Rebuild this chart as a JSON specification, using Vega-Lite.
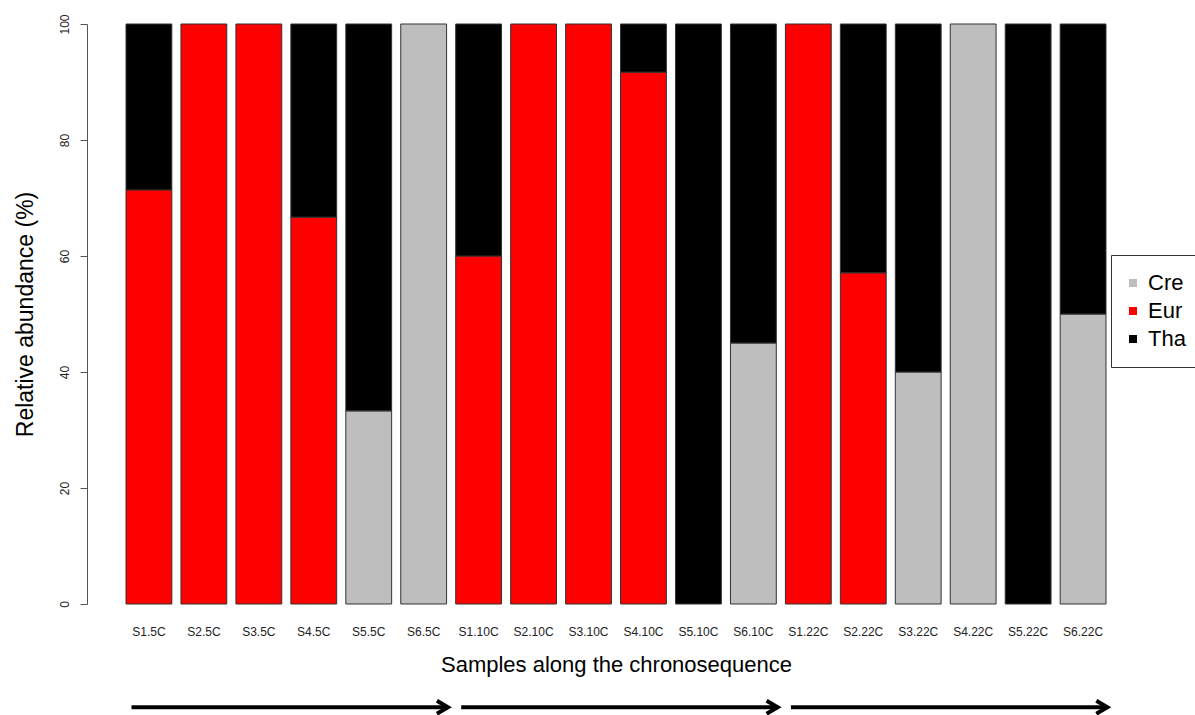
{
  "$schema": "https://vega.github.io/schema/vega-lite/v6.json",
  "autosize": {"type": "none"},
  "padding": {"left": 87, "top": 24, "right": 50, "bottom": 111},
  "width": 1058,
  "height": 580,
  "config": {
    "font": "Liberation Sans",
    "view": {"stroke": null}
  },
  "datasets": {
    "bars": [
      {"sample": "S1.5C", "taxon": "Eur", "value": 71.4},
      {"sample": "S1.5C", "taxon": "Tha", "value": 28.6},
      {"sample": "S2.5C", "taxon": "Eur", "value": 100},
      {"sample": "S3.5C", "taxon": "Eur", "value": 100},
      {"sample": "S4.5C", "taxon": "Eur", "value": 66.7},
      {"sample": "S4.5C", "taxon": "Tha", "value": 33.3},
      {"sample": "S5.5C", "taxon": "Cre", "value": 33.3},
      {"sample": "S5.5C", "taxon": "Tha", "value": 66.7},
      {"sample": "S6.5C", "taxon": "Cre", "value": 100},
      {"sample": "S1.10C", "taxon": "Eur", "value": 60},
      {"sample": "S1.10C", "taxon": "Tha", "value": 40},
      {"sample": "S2.10C", "taxon": "Eur", "value": 100},
      {"sample": "S3.10C", "taxon": "Eur", "value": 100},
      {"sample": "S4.10C", "taxon": "Eur", "value": 91.7},
      {"sample": "S4.10C", "taxon": "Tha", "value": 8.3},
      {"sample": "S5.10C", "taxon": "Tha", "value": 100},
      {"sample": "S6.10C", "taxon": "Cre", "value": 45},
      {"sample": "S6.10C", "taxon": "Tha", "value": 55},
      {"sample": "S1.22C", "taxon": "Eur", "value": 100},
      {"sample": "S2.22C", "taxon": "Eur", "value": 57.1},
      {"sample": "S2.22C", "taxon": "Tha", "value": 42.9},
      {"sample": "S3.22C", "taxon": "Cre", "value": 40},
      {"sample": "S3.22C", "taxon": "Tha", "value": 60},
      {"sample": "S4.22C", "taxon": "Cre", "value": 100},
      {"sample": "S5.22C", "taxon": "Tha", "value": 100},
      {"sample": "S6.22C", "taxon": "Cre", "value": 50},
      {"sample": "S6.22C", "taxon": "Tha", "value": 50}
    ],
    "arrows": [
      {"from": "S1.5C", "to": "S6.5C"},
      {"from": "S1.10C", "to": "S6.10C"},
      {"from": "S1.22C", "to": "S6.22C"}
    ]
  },
  "encoding": {
    "x": {
      "field": "sample",
      "type": "nominal",
      "scale": {
        "domain": ["S1.5C","S2.5C","S3.5C","S4.5C","S5.5C","S6.5C","S1.10C","S2.10C","S3.10C","S4.10C","S5.10C","S6.10C","S1.22C","S2.22C","S3.22C","S4.22C","S5.22C","S6.22C"],
        "paddingInner": 0.166,
        "paddingOuter": 0.71
      },
      "axis": {
        "title": "Samples along the chronosequence",
        "titleFontSize": 22,
        "titleFontWeight": "normal",
        "titleColor": "#000",
        "titlePadding": 17,
        "labelAngle": 0,
        "labelFontSize": 12,
        "labelColor": "#222",
        "labelPadding": 22,
        "ticks": false,
        "domain": false
      }
    }
  },
  "layer": [
    {
      "data": {"name": "bars"},
      "mark": {"type": "bar", "stroke": "#333", "strokeWidth": 1},
      "encoding": {
        "y": {
          "field": "value",
          "type": "quantitative",
          "stack": "zero",
          "scale": {"domain": [0, 100], "nice": false},
          "axis": {
            "title": "Relative abundance (%)",
            "titleFontSize": 23,
            "titleFontWeight": "normal",
            "titleColor": "#000",
            "titlePadding": 21,
            "values": [0, 20, 40, 60, 80, 100],
            "labelAngle": 270,
            "labelAlign": "center",
            "labelBaseline": "bottom",
            "labelFontSize": 12,
            "labelColor": "#222",
            "labelPadding": 9,
            "tickSize": 7,
            "tickColor": "#555",
            "domainColor": "#555",
            "grid": false
          }
        },
        "color": {
          "field": "taxon",
          "type": "nominal",
          "scale": {"domain": ["Cre", "Eur", "Tha"], "range": ["#BEBEBE", "#FF0000", "#000000"]},
          "legend": {
            "title": null,
            "orient": "none",
            "legendX": 1024,
            "legendY": 231,
            "padding": 17,
            "strokeColor": "#333",
            "fillColor": "#ffffff",
            "symbolType": "square",
            "symbolSize": 64,
            "symbolStrokeWidth": 0,
            "symbolOffset": -6,
            "labelFontSize": 22,
            "labelColor": "#000",
            "labelOffset": 4,
            "rowPadding": 6
          }
        },
        "order": {"field": "taxon", "sort": "ascending"}
      }
    },
    {
      "data": {"name": "arrows"},
      "mark": {"type": "rule", "strokeWidth": 4, "color": "#000", "strokeCap": "butt"},
      "encoding": {
        "x": {"field": "from", "type": "nominal", "bandPosition": 0.12},
        "x2": {"field": "to", "bandPosition": 1.03},
        "y": {"datum": -17.8}
      }
    },
    {
      "data": {"name": "arrows"},
      "mark": {"type": "point", "shape": "M-1.7,-1L0,0L-1.7,1", "filled": false, "stroke": "#000", "strokeWidth": 4, "strokeJoin": "miter", "size": 169, "opacity": 1},
      "encoding": {
        "x": {"field": "to", "type": "nominal", "bandPosition": 1.03},
        "y": {"datum": -17.8}
      }
    }
  ]
}
